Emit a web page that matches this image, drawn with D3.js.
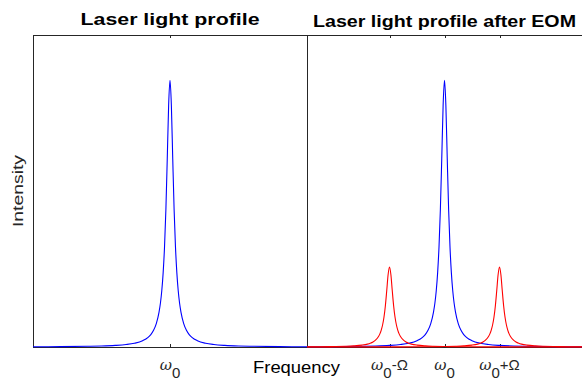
<!DOCTYPE html>
<html>
<head>
<meta charset="utf-8">
<script src="https://cdn.jsdelivr.net/npm/d3@7"></script>
<style>
  html, body { margin: 0; padding: 0; background: #fff; }
  svg { display: block; font-family: "Liberation Sans", Arial, sans-serif; }
</style>
</head>
<body>
<svg id="chart" width="582" height="381"></svg>
<script>
// ---- data ----
const panelTitles = ["Laser light profile", "Laser light profile after EOM"];
const yLabel = "Intensity";
const xLabel = "Frequency";
// Lorentzian line profile, tabulated: offset from line centre -> relative intensity
const profileOffsets = [0, 0.5, 1, 1.5, 2, 2.5, 3, 3.5, 4, 5, 6, 7, 8, 10, 13, 16, 20, 25, 30, 40, 50, 60, 70];
const profileValues  = [1, 0.906, 0.706, 0.516, 0.375, 0.278, 0.211, 0.164, 0.131, 0.0877, 0.0626, 0.0467, 0.0362, 0.0235, 0.0140, 0.0093, 0.0060, 0.0038, 0.0027, 0.0015, 0.0010, 0.0007, 0.0005];
// peaks
const carrierCenter = 0;
const sidebandShift = 20;
const carrierHeight = 1;
const sidebandHeight = 0.3;
const peakPanels  = [0, 1, 1, 1];
const peakCenters = [carrierCenter, carrierCenter, carrierCenter - sidebandShift, carrierCenter + sidebandShift];
const peakHeights = [carrierHeight, carrierHeight, sidebandHeight, sidebandHeight];
const peakColors  = ["#0000ff", "#0000ff", "#ff0000", "#ff0000"];
// ticks
const tickValues = [[carrierCenter], [carrierCenter - sidebandShift, carrierCenter, carrierCenter + sidebandShift]];
const tickMain = [["ω"], ["ω", "ω", "ω"]];
const tickSub  = [["0"], ["0", "0", "0"]];
const tickTail = [[""], ["-Ω", "", "+Ω"]];
const xDomain = [-50, 50];
const yDomain = [0, 1.17];

// ---- layout ----
const svg = d3.select("#chart");
const panelX = [[33, 307], [307, 582]];
const plotTop = 35, plotBottom = 347;
const y = d3.scaleLinear().domain(yDomain).range([plotBottom, plotTop]);
const axisColor = "#262626";
const titleSize = [17, 16], titleLen = [179, 263], titleBase = [25, 26.5];

// full symmetric profile
const fullOff = [], fullVal = [];
for (let i = profileOffsets.length - 1; i > 0; i--) { fullOff.push(-profileOffsets[i]); fullVal.push(profileValues[i]); }
for (let i = 0; i < profileOffsets.length; i++) { fullOff.push(profileOffsets[i]); fullVal.push(profileValues[i]); }

const defs = svg.append("defs");
const scales = panelX.map((r, p) => {
  const x = d3.scaleLinear().domain(xDomain).range(r);
  defs.append("clipPath").attr("id", "clip" + p)
    .append("rect").attr("x", r[0]).attr("y", plotTop - 5).attr("width", r[1] - r[0]).attr("height", plotBottom - plotTop + 10);
  return x;
});

// axes frames
panelX.forEach((r, p) => {
  const g = svg.append("g");
  g.append("line").attr("x1", r[0]).attr("x2", r[1]).attr("y1", plotTop + 0.5).attr("y2", plotTop + 0.5)
    .attr("stroke", axisColor).attr("stroke-width", 1);
  g.append("line").attr("x1", r[0]).attr("x2", r[1]).attr("y1", plotBottom + 0.5).attr("y2", plotBottom + 0.5)
    .attr("stroke", axisColor).attr("stroke-width", 1);
  g.append("line").attr("x1", r[0] + 0.5).attr("x2", r[0] + 0.5).attr("y1", plotTop).attr("y2", plotBottom + 1)
    .attr("stroke", axisColor).attr("stroke-width", 1);
  const x = scales[p];
  tickValues[p].forEach((t, i) => {
    const px = Math.round(x(t)) + 0.5;
    g.append("line").attr("x1", px).attr("x2", px).attr("y1", plotTop).attr("y2", plotTop + 3).attr("stroke", axisColor);
    g.append("line").attr("x1", px).attr("x2", px).attr("y1", plotBottom).attr("y2", plotBottom - 3).attr("stroke", axisColor);
    const txt = g.append("text").attr("x", x(t)).attr("y", 370).attr("text-anchor", "middle")
      .attr("fill", axisColor).attr("font-size", 15)
      .style("font-family", "'DejaVu Serif', serif");
    txt.append("tspan").text(tickMain[p][i]).style("font-style", "italic");
    txt.append("tspan").text(tickSub[p][i]).attr("dy", 8).style("font-family", "'Liberation Sans', Arial, sans-serif");
    if (tickTail[p][i]) {
      txt.append("tspan").text(tickTail[p][i]).attr("dy", -8).style("font-family", "'Liberation Sans', Arial, sans-serif");
    }
  });
  svg.append("text").attr("x", (r[0] + r[1]) / 2).attr("y", titleBase[p])
    .attr("text-anchor", "middle").attr("font-weight", "bold")
    .attr("font-size", titleSize[p]).attr("fill", "#000")
    .attr("textLength", titleLen[p]).attr("lengthAdjust", "spacingAndGlyphs")
    .text(panelTitles[p]);
});

// curves
const line = d3.line().curve(d3.curveMonotoneX);
peakCenters.forEach((c, k) => {
  const p = peakPanels[k];
  const x = scales[p];
  const pts = fullOff.map((o, i) => [x(c + o), y(peakHeights[k] * fullVal[i])]);
  svg.append("path").attr("d", line(pts)).attr("fill", "none")
    .attr("stroke", peakColors[k]).attr("stroke-width", 1.1)
    .attr("clip-path", "url(#clip" + p + ")");
});

// axis labels
svg.append("text").attr("transform", "translate(23," + ((plotTop + plotBottom) / 2) + ") rotate(-90)")
  .attr("text-anchor", "middle").attr("font-size", 15).attr("fill", axisColor)
  .attr("textLength", 72).attr("lengthAdjust", "spacingAndGlyphs").text(yLabel);
svg.append("text").attr("x", 296.5).attr("y", 373).attr("text-anchor", "middle")
  .attr("font-size", 17).attr("fill", "#000")
  .attr("textLength", 87).attr("lengthAdjust", "spacingAndGlyphs").text(xLabel);
</script>
</body>
</html>
